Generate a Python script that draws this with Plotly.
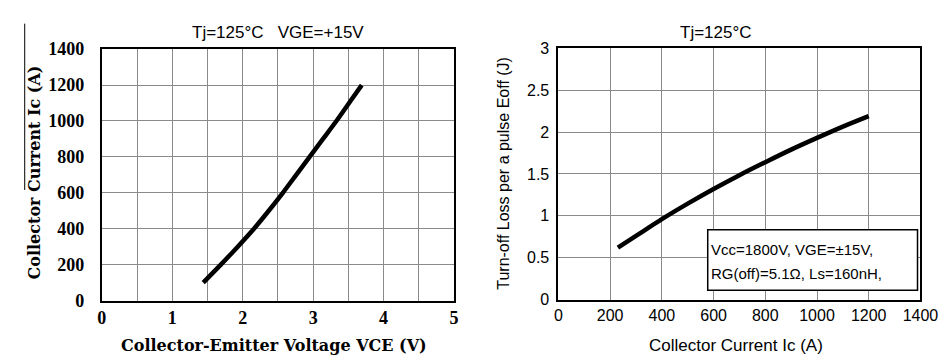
import plotly.graph_objects as go

# Left chart: output characteristic
vce = [1.44, 1.69, 1.93, 2.16, 2.37, 2.57, 2.76, 2.95, 3.14, 3.33, 3.51, 3.69]
ic = [100, 200, 300, 400, 500, 600, 700, 800, 900, 1000, 1100, 1200]
left_xticks = [0, 1, 2, 3, 4, 5]
left_yticks = [0, 200, 400, 600, 800, 1000, 1200, 1400]

# Right chart: turn-off loss
ic2 = [230, 300, 400, 500, 600, 700, 800, 900, 1000, 1100, 1200]
eoff = [0.62, 0.76, 0.96, 1.145, 1.32, 1.485, 1.64, 1.79, 1.93, 2.065, 2.19]
right_xticks = [0, 200, 400, 600, 800, 1000, 1200, 1400]
right_yticks = [0, 0.5, 1, 1.5, 2, 2.5, 3]
right_yticktext = ["0", "0.5", "1", "1.5", "2", "2.5", "3"]

W, H = 948, 363
def px(x): return x / W
def py(y): return (H - y) / H

SERIF = "DejaVu Serif"
SERIF_T = "Liberation Serif"
SANS = "Liberation Sans"
GRID = "#8a8a8a"

fig = go.Figure()
fig.add_trace(go.Scatter(x=vce, y=ic, mode="lines", line=dict(color="black", width=4.5, shape="spline", smoothing=0.8),
                         xaxis="x", yaxis="y", showlegend=False, hoverinfo="skip"))
fig.add_trace(go.Scatter(x=ic2, y=eoff, mode="lines", line=dict(color="black", width=4.5, shape="spline", smoothing=0.8),
                         xaxis="x2", yaxis="y2", showlegend=False, hoverinfo="skip"))

axis_common = dict(showline=True, linecolor="black", linewidth=2, mirror=True, zeroline=False,
                   showgrid=True, gridcolor=GRID, gridwidth=1)

fig.update_layout(
    width=W, height=H, margin=dict(l=0, r=0, t=0, b=0),
    paper_bgcolor="white", plot_bgcolor="white",
    xaxis=dict(domain=[px(91), px(452)], range=[0, 5], tickvals=left_xticks, ticks="",
               minor=dict(dtick=0.5, showgrid=True, gridcolor=GRID, gridwidth=1),
               tickfont=dict(family=SERIF_T, size=18, color="black", weight="bold"),
               anchor="y", **axis_common),
    yaxis=dict(domain=[py(299), py(33)], range=[0, 1400], tickvals=left_yticks,
               ticks="outside", ticklen=12, tickcolor="rgba(0,0,0,0)",
               tickfont=dict(family=SERIF_T, size=18, color="black", weight="bold"),
               anchor="x", **axis_common),
    xaxis2=dict(domain=[px(559), px(930)], range=[0, 1400], tickvals=right_xticks, ticks="",
                tickfont=dict(family=SANS, size=16, color="black"),
                anchor="y2", **axis_common),
    yaxis2=dict(domain=[py(298), py(32)], range=[0, 3], tickvals=right_yticks, ticktext=right_yticktext,
                ticks="outside", ticklen=4, tickcolor="rgba(0,0,0,0)",
                tickfont=dict(family=SANS, size=16, color="black"),
                anchor="x2", **axis_common),
)

annotations = [
    dict(text="Tj=125°C &nbsp;&nbsp;VGE=+15V", x=px(272), y=py(15), font=dict(family=SANS, size=17, color="black")),
    dict(text="<b>Collector Current Ic (A)</b>", x=px(22), y=py(163), textangle=-90,
         font=dict(family=SERIF, size=16, color="black")),
    dict(text="<b>Collector-Emitter Voltage VCE (V)</b>", x=px(268), y=py(347),
         font=dict(family=SERIF, size=16, color="black")),
    dict(text="Tj=125°C", x=px(720), y=py(15), font=dict(family=SANS, size=17, color="black")),
    dict(text="Turn-off Loss per a pulse Eoff (J)", x=px(503), y=py(164), textangle=-90,
         font=dict(family=SANS, size=16, color="black")),
    dict(text="Collector Current Ic (A)", x=px(741), y=py(347), font=dict(family=SANS, size=17, color="black")),
    dict(text="Vcc=1800V, VGE=±15V,", x=px(713), y=py(245), xanchor="left",
         font=dict(family=SANS, size=15, color="black")),
    dict(text="RG(off)=5.1Ω, Ls=160nH,", x=px(713), y=py(270), xanchor="left",
         font=dict(family=SANS, size=15, color="black")),
]
for a in annotations:
    a.setdefault("xanchor", "center")
    a.update(xref="paper", yref="paper", yanchor="middle", showarrow=False)
    fig.add_annotation(**a)

fig.add_shape(type="rect", xref="paper", yref="paper", x0=px(712), x1=px(927), y0=py(288), y1=py(224),
              line=dict(color="black", width=1.5), fillcolor="white", layer="above")
fig.add_shape(type="line", xref="paper", yref="paper", x0=px(12), x1=px(12), y0=py(182), y1=py(6),
              line=dict(color="black", width=1))

fig.write_html("out.html")
